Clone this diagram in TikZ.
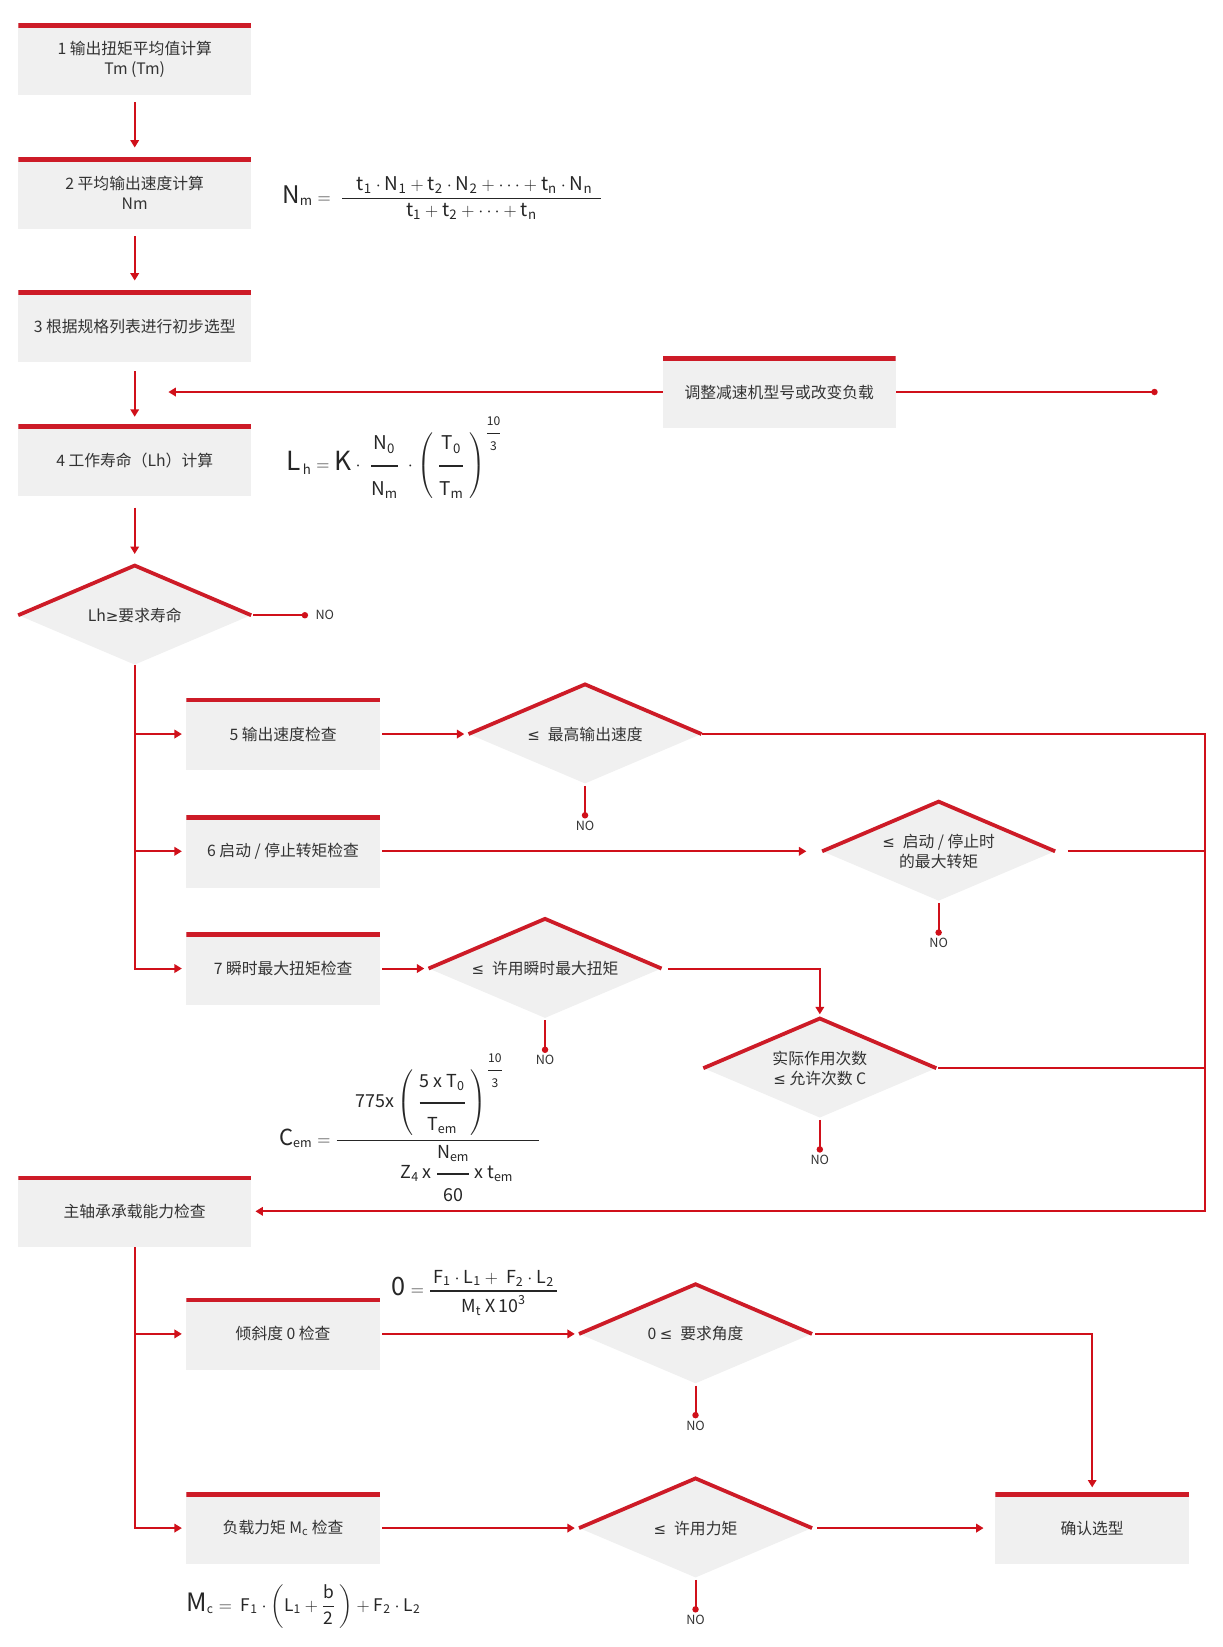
\documentclass[tikz,border=0pt]{standalone}
\usepackage{fontspec}
\usepackage{amsmath}
\setmainfont{Noto Sans CJK SC}
\newfontfamily\relfont{DejaVu Sans}[Scale=0.95]
\usetikzlibrary{positioning}
\usetikzlibrary{shapes.geometric}
\usetikzlibrary{arrows.meta}

\definecolor{barred}{HTML}{CD1B27}
\definecolor{linkred}{HTML}{D0101A}
\definecolor{boxgray}{HTML}{F0F0F0}
\definecolor{textgray}{HTML}{333333}

\newcommand{\bigsym}[2]{\text{\fontsize{#1}{#1}\selectfont #2}}
\newcommand{\barfrac}[2]{\genfrac{}{}{1.3pt}{0}{#1}{#2}}
\newcommand{\tallfrac}[2]{\genfrac{}{}{1.3pt}{0}{#1\rule[-0.6em]{0pt}{0.6em}}{\rule{0pt}{1.3em}#2}}
\newcommand{\powfrac}[2]{\genfrac{}{}{1pt}{0}{\text{\fontsize{11.5}{12}\selectfont #1}}{\text{\fontsize{11.5}{12}\selectfont #2}}}

\begin{document}
\begin{tikzpicture}[x=1pt, y=-1pt,
    stepbox/.style={rectangle, fill=boxgray, minimum width=221pt, minimum height=68pt, inner sep=0pt, align=center, text=textgray, font=\fontsize{15}{19}\selectfont,
      path picture={\fill[barred] (path picture bounding box.north west) rectangle ([yshift=-4.5pt]path picture bounding box.north east);}},
    checkbox/.style={stepbox, minimum width=184pt, minimum height=69pt},
    decision/.style={diamond, aspect=2.35, fill=boxgray, minimum width=221pt, minimum height=94pt, inner sep=0pt, align=center, text=textgray, font=\fontsize{15}{19}\selectfont},
    topedge/.style={draw=barred, line width=3.6pt, line join=miter},
    flowline/.style={draw=linkred, line width=1.9pt},
    flowarrow/.style={flowline, -{Triangle[length=7pt, width=8pt]}, shorten >=4pt},
    nolink/.style={flowline, -{Circle[length=6pt]}, shorten <=2pt, shorten >=1pt},
    nolabel/.style={text=textgray, font=\fontsize{12}{14}\selectfont, inner sep=1pt},
    formula/.style={text=black!85, inner sep=0pt}
  ]

    \useasboundingbox (0,0) rectangle (1162,1565);

    % Steps
    \node[stepbox] (step1) at (128,56) {1 输出扭矩平均值计算\\Tm (Tm)};
    \node[stepbox, below=59pt of step1] (step2) {2 平均输出速度计算\\Nm};
    \node[stepbox, below=58pt of step2] (step3) {3 根据规格列表进行初步选型};
    \node[stepbox, below=59pt of step3] (step4) {4 工作寿命（Lh）计算};
    \node[decision, below=66pt of step4] (dlife) {Lh{\relfont ≥}要求寿命};
    \node[stepbox] (adjust) at (740.5,372.5) {调整减速机型号或改变负载};

    % Checks
    \node[checkbox] (check5) at (269,697.5) {5 输出速度检查};
    \node[checkbox, below=42pt of check5] (check6) {6 启动 / 停止转矩检查};
    \node[checkbox, below=42pt of check6] (check7) {7 瞬时最大扭矩检查};
    \node[decision, right=84pt of check5] (dspeed) {{\relfont ≤}\enspace 最高输出速度};
    \node[decision, right=420pt of check6] (dstart) {{\relfont ≤}\enspace 启动 / 停止时\\的最大转矩};
    \node[decision, right=46pt of check7] (dpeak) {{\relfont ≤}\enspace 许用瞬时最大扭矩};
    \node[decision] (dcycle) at (779,1015) {实际作用次数\\{\relfont ≤} 允许次数 C};

    % Bearing
    \node[stepbox] (bearing) at (128,1151) {主轴承承载能力检查};
    \node[checkbox] (tilt) at (269,1267.5) {倾斜度 0 检查};
    \node[checkbox] (moment) at (269,1452) {负载力矩 M$_{\mathrm{c}}$ 检查};
    \node[decision, right=189pt of tilt] (dtilt) {0 {\relfont ≤}\enspace 要求角度};
    \node[decision, right=189pt of moment] (dmoment) {{\relfont ≤}\enspace 许用力矩};
    \node[checkbox, right=174pt of dmoment] (confirm) {确认选型};

    % NO labels
    \node[nolabel, right=60pt of dlife] (nolife) {NO};
    \node[nolabel, below=34pt of dspeed] (nospeed) {NO};
    \node[nolabel, below=34pt of dstart] (nostart) {NO};
    \node[nolabel, below=34pt of dpeak] (nopeak) {NO};
    \node[nolabel, below=34pt of dcycle] (nocycle) {NO};
    \node[nolabel, below=34pt of dtilt] (notilt) {NO};
    \node[nolabel, below=34pt of dmoment] (nomoment) {NO};

    % Formulas
    \node[formula, anchor=base west, font=\fontsize{18}{21}\selectfont] (fnm) at (268,193)
      {$\bigsym{23}{N}_{\mathrm{m}} = \;\barfrac{\hspace{14pt}\mathrm{t}_{\mathrm{1}}\cdot\mathrm{N}_{\mathrm{1}}+\mathrm{t}_{\mathrm{2}}\cdot\mathrm{N}_{\mathrm{2}}+\cdots+\mathrm{t}_{\mathrm{n}}\cdot\mathrm{N}_{\mathrm{n}}\hspace{8pt}}{\mathrm{t}_{\mathrm{1}}+\mathrm{t}_{\mathrm{2}}+\cdots+\mathrm{t}_{\mathrm{n}}}$};
    \node[formula, anchor=base west, font=\fontsize{18}{21}\selectfont] (flh) at (272,447)
      {$\bigsym{25}{L}_{\,\mathrm{h}} = \bigsym{25}{K}\cdot\;\tallfrac{\mathrm{N}_{\mathrm{0}}}{\mathrm{N}_{\mathrm{m}}}\;\cdot\left(\;\tallfrac{\mathrm{T}_{\mathrm{0}}}{\mathrm{T}_{\mathrm{m}}}\;\right)^{\powfrac{10}{3}}$};
    \node[formula, anchor=base west, font=\fontsize{17}{20}\selectfont] (fcem) at (265,1088)
      {$\bigsym{21}{C}_{\mathrm{em}} = \barfrac{\hspace{18pt}\mathrm{775x}\left(\;\tallfrac{\mathrm{5\ x\ T}_{\mathrm{0}}}{\mathrm{T}_{\mathrm{em}}}\;\right)^{\powfrac{10}{3}}\hspace{34pt}}{\hspace{36pt}\mathrm{Z}_{\mathrm{4}}\ \mathrm{x}\ \tallfrac{\mathrm{N}_{\mathrm{em}}}{\mathrm{60}}\ \mathrm{x}\ \mathrm{t}_{\mathrm{em}}}$};
    \node[formula, anchor=base west, font=\fontsize{17}{20}\selectfont] (ftilt) at (372,1231)
      {$\bigsym{24}{0} = \barfrac{\,\mathrm{F}_{\mathrm{1}}\cdot\mathrm{L}_{\mathrm{1}}+\ \mathrm{F}_{\mathrm{2}}\cdot\mathrm{L}_{\mathrm{2}}\,}{\mathrm{M}_{\mathrm{t}}\ \mathrm{X}\,\mathrm{10}^{\mathrm{3}}}$};
    \node[formula, anchor=base west, font=\fontsize{16.5}{20}\selectfont] (fmc) at (177,1531)
      {$\bigsym{24}{M}_{\mathrm{c}} =\ \mathrm{F}_{\mathrm{1}}\cdot\left(\mathrm{L}_{\mathrm{1}}+\barfrac{\mathrm{b}}{\mathrm{2}}\ \right)+\mathrm{F}_{\mathrm{2}}\cdot\mathrm{L}_{\mathrm{2}}$};

    % Diamond edges
    \foreach \d in {dlife, dspeed, dstart, dpeak, dcycle, dtilt, dmoment}
      \draw[topedge] (\d.west) -- (\d.north) -- (\d.east);

    % Connectors
    \draw[flowarrow, shorten <=7pt, shorten >=9pt] (step1) -- (step2);
    \draw[flowarrow, shorten <=7pt, shorten >=9pt] (step2) -- (step3);
    \draw[flowarrow, shorten <=9pt, shorten >=7pt] (step3) -- (step4);
    \draw[flowarrow, shorten <=11pt, shorten >=11pt] (step4) -- (dlife);

    \coordinate (redo) at (1100,372.5);
    \coordinate (back) at (156,372.5);
    \draw[flowline, {Circle[length=6pt]}-] (redo) -- (adjust.east);
    \draw[flowarrow] (adjust.west) -- (back);

    \draw[flowarrow] (dlife.south) |- (check5.west);
    \draw[flowarrow] (dlife.south) |- (check6.west);
    \draw[flowarrow] (dlife.south) |- (check7.west);
    \draw[flowarrow, shorten <=2pt] (check5) -- (dspeed);
    \draw[flowarrow, shorten <=2pt, shorten >=15pt] (check6) -- (dstart);
    \draw[flowarrow, shorten <=2pt] (check7) -- (dpeak);
    \draw[flowarrow, shorten <=6pt] (dpeak.east) -| (dcycle.north);

    \coordinate (rail) at (1145,0);
    \draw[flowarrow] (dspeed.east) -- (dspeed.east -| rail) -- (bearing.east -| rail) -- (bearing.east);
    \draw[flowline, shorten <=12pt] (dstart.east) -- (dstart.east -| rail);
    \draw[flowline, shorten <=2pt] (dcycle.east) -- (dcycle.east -| rail);

    \draw[flowarrow] (bearing.south) |- (tilt.west);
    \draw[flowarrow] (bearing.south) |- (moment.west);
    \draw[flowarrow, shorten <=2pt] (tilt) -- (dtilt);
    \draw[flowarrow, shorten <=2pt] (moment) -- (dmoment);
    \draw[flowarrow, shorten <=3pt] (dtilt.east) -| (confirm.north);
    \draw[flowarrow, shorten <=5pt, shorten >=11pt] (dmoment) -- (confirm);

    \draw[nolink, shorten >=6pt] (dlife.east) -- (nolife.west);
    \draw[nolink] (dspeed.south) -- (nospeed.north);
    \draw[nolink] (dstart.south) -- (nostart.north);
    \draw[nolink] (dpeak.south) -- (nopeak.north);
    \draw[nolink] (dcycle.south) -- (nocycle.north);
    \draw[nolink] (dtilt.south) -- (notilt.north);
    \draw[nolink] (dmoment.south) -- (nomoment.north);

  \end{tikzpicture}
\end{document}
